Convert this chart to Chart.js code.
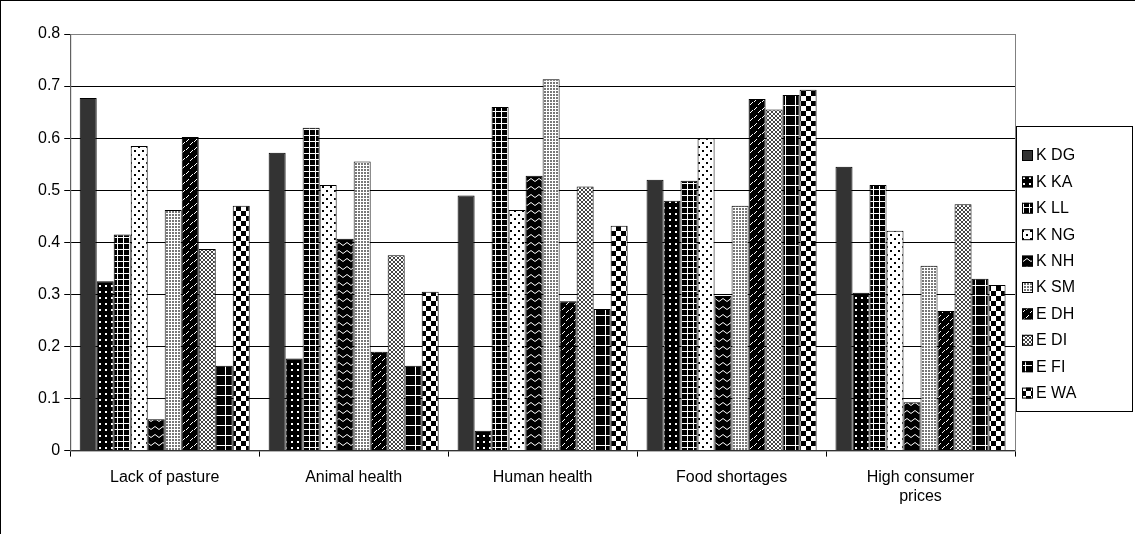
<!DOCTYPE html><html><head><script src="https://cdn.jsdelivr.net/npm/chart.js"></script>
<style>body{margin:0;background:#fff}#w{width:1135px;height:534px;box-sizing:border-box;border-top:1px solid #000;border-left:1px solid #000;overflow:hidden}</style></head><body><div id="w"><canvas id="c" width="1134" height="533"></canvas></div><script>
const categories=[["Lack of pasture"],["Animal health"],["Human health"],["Food shortages"],["High consumer","prices"]];
const seriesNames=["K DG","K KA","K LL","K NG","K NH","K SM","E DH","E DI","E FI","E WA"];
const KDG=[0.677,0.572,0.49,0.52,0.545];
const KKA=[0.325,0.177,0.038,0.48,0.303];
const KLL=[0.415,0.62,0.66,0.518,0.51];
const KNG=[0.585,0.51,0.462,0.6,0.422];
const KNH=[0.06,0.407,0.528,0.297,0.093];
const KSM=[0.462,0.555,0.713,0.47,0.355];
const EDH=[0.602,0.19,0.287,0.675,0.268];
const EDI=[0.387,0.375,0.507,0.655,0.473];
const EFI=[0.163,0.163,0.272,0.683,0.33];
const EWA=[0.47,0.305,0.432,0.693,0.318];
const values=[KDG,KKA,KLL,KNG,KNH,KSM,EDH,EDI,EFI,EWA];
const yTicks=[0,0.1,0.2,0.3,0.4,0.5,0.6,0.7,0.8];
function pat(s,bg,fn){const c=document.createElement('canvas');c.width=c.height=s;const g=c.getContext('2d');g.fillStyle=bg;g.fillRect(0,0,s,s);fn(g);return g.createPattern(c,'repeat');}
const ctx0=document.getElementById('c').getContext('2d');
const fills=[
'#333333',
pat(6,'#000',g=>{g.fillStyle='#fff';g.fillRect(2,2,2,2);}),
pat(6,'#000',g=>{g.fillStyle='#fff';g.fillRect(0,2,6,1);g.fillRect(2,0,1,6);}),
pat(8,'#fff',g=>{g.fillStyle='#000';g.fillRect(1,1,2,2);g.fillRect(5,5,2,2);}),
pat(8,'#000',g=>{g.strokeStyle='#fff';g.lineWidth=1;g.beginPath();g.moveTo(0,3);g.quadraticCurveTo(2,0,4,3);g.quadraticCurveTo(6,6,8,3);g.stroke();}),
pat(3,'#fff',g=>{g.fillStyle='#777';g.fillRect(0,0,2,2);}),
pat(8,'#000',g=>{g.strokeStyle='#fff';g.lineWidth=1;g.beginPath();g.moveTo(1,5);g.lineTo(4,2);g.moveTo(5,8);g.lineTo(8,5);g.stroke();}),
pat(4,'#fff',g=>{g.fillStyle='#444';g.fillRect(0,0,2,2);g.fillRect(2,2,2,2);}),
pat(10,'#000',g=>{g.fillStyle='#fff';g.fillRect(0,4,10,1);g.fillRect(4,0,1,10);}),
pat(10,'#fff',g=>{g.fillStyle='#000';g.fillRect(0,0,5,5);g.fillRect(5,5,5,5);})
];
const datasets=seriesNames.map((n,i)=>({label:n,data:values[i],backgroundColor:fills[i],borderColor:'#000',borderWidth:1,categoryPercentage:0.9,barPercentage:1}));
const frame={id:'frame',afterDraw(ch){const g=ch.ctx;g.save();
const a=ch.chartArea;g.strokeStyle='#808080';g.lineWidth=1;g.strokeRect(a.left+0.5,a.top+0.5,a.right-a.left,a.bottom-a.top);
const lx=1015,ly=125,lw=116,lh=285;g.strokeStyle='#000';g.strokeRect(lx+0.5,ly+0.5,lw,lh);
g.font='16px "Liberation Sans"';g.textBaseline='middle';g.fillStyle='#000';
ch.data.datasets.forEach((d,i)=>{const y=154+i*26.4;g.fillStyle=d.backgroundColor;g.fillRect(1021,y-5,11,11);g.strokeStyle='#000';g.strokeRect(1021.5,y-4.5,10,10);g.fillStyle='#000';g.fillText(d.label,1035,y+1);});
g.restore();}};
new Chart(ctx0,{type:'bar',data:{labels:categories,datasets},plugins:[frame],
options:{responsive:false,animation:false,devicePixelRatio:1,
layout:{padding:{left:33,top:33,right:120,bottom:17}},
plugins:{legend:{display:false},tooltip:{enabled:false}},
scales:{x:{grid:{display:true,offset:true,drawOnChartArea:false,color:'#000',tickLength:6},border:{color:'#000'},ticks:{color:'#000',font:{family:'Liberation Sans',size:16},maxRotation:0,padding:11}},
y:{min:0,max:0.8,afterBuildTicks(ax){ax.ticks=yTicks.map(v=>({value:v}));},grid:{color:'#000',tickLength:6},border:{color:'#000'},ticks:{color:'#000',font:{family:'Liberation Sans',size:16},callback:v=>v===0?'0':v.toFixed(1),padding:4}}}}});
</script></body></html>
